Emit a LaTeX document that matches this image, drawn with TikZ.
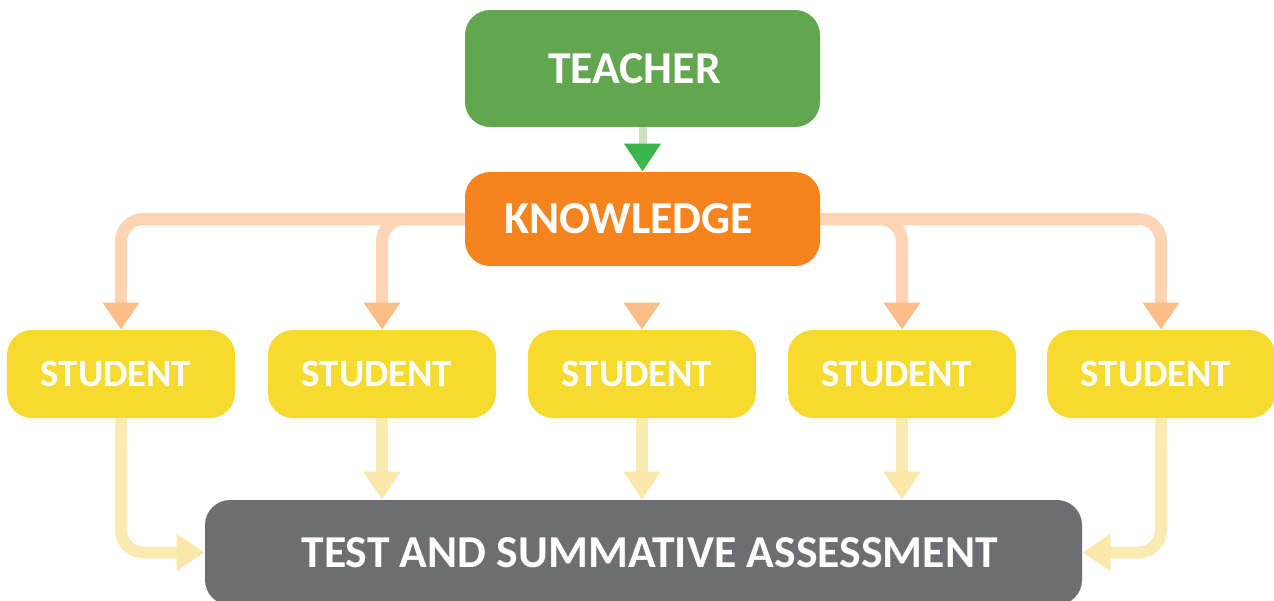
\documentclass[tikz,border=0pt]{standalone}
\usepackage{fontspec}
\setmainfont{Carlito}
\usetikzlibrary{arrows.meta}
\definecolor{teachgreen}{HTML}{62A650}
\definecolor{knoworange}{HTML}{F5841F}
\definecolor{studyellow}{HTML}{F7DA2E}
\definecolor{testgray}{HTML}{6D6E71}
\definecolor{greenline}{HTML}{C9DFC6}
\definecolor{greentip}{HTML}{3CB54A}
\definecolor{orangeline}{HTML}{FDD5B4}
\definecolor{orangetip}{HTML}{FDBD88}
\definecolor{yellowline}{HTML}{FAEBB2}
\definecolor{yellowtip}{HTML}{F9E8AA}
\begin{document}
\begin{tikzpicture}
    \tikzset{
        box/.style={
            rectangle,
            rounded corners=0.5cm,
            inner sep=0mm,
            text=white,
            font=\bfseries
        },
        tteach/.style={
            draw=greenline,
            line width=0.16cm,
            -{Triangle[width=0.7cm,length=0.56cm,color=greentip]}
        },
        tknow/.style={
            draw=orangeline,
            line width=0.24cm,
            rounded corners=0.45cm,
            -{Triangle[width=0.7cm,length=0.54cm,color=orangetip]}
        },
        tstud/.style={
            draw=yellowline,
            line width=0.24cm,
            rounded corners=0.45cm,
            -{Triangle[width=0.7cm,length=0.56cm,color=yellowtip]}
        }
    }
    \useasboundingbox (0,0) rectangle (25.48,-12);
    % draw boxes
    \node[box,fill=teachgreen,minimum width=7.1cm,minimum height=2.34cm,
        font=\fontsize{26}{30}\bfseries] (teacher) at (12.85,-1.37)
        {TEACHER\kern0.32cm};
    \node[box,fill=knoworange,minimum width=7.1cm,minimum height=1.88cm,
        font=\fontsize{26}{30}\bfseries] (know) at (12.85,-4.38)
        {KNOWLEDGE\kern0.56cm};
    \foreach \i/\x in {1/2.42,2/7.64,3/12.84,4/18.04,5/23.22}
        \node[box,fill=studyellow,minimum width=4.56cm,minimum height=1.76cm,
            font=\fontsize{22}{26}\bfseries] (s\i) at (\x,-7.48)
            {\raisebox{-0.1cm}{STUDENT}\kern0.2cm};
    \node[box,fill=testgray,minimum width=17.54cm,minimum height=2.1cm,
        font=\fontsize{26}{30}\bfseries] (test) at (12.87,-11.05)
        {\kern0.24cm TEST AND SUMMATIVE ASSESSMENT};
    % draw teacher to knowledge
    \draw[tteach] (teacher) -- (know);
    % draw knowledge to students
    \draw[tknow] (know.west) -| (s1.north);
    \draw[tknow] (know.west) -| (s2.north);
    \draw[tknow] (know.east) -| (s4.north);
    \draw[tknow] (know.east) -| (s5.north);
    \coordinate (mtip) at ([yshift=0.54cm]s3.north);
    \draw[tknow] (mtip) -- (s3.north);
    % draw students to test
    \draw[tstud] (s1.south) |- (test.west);
    \foreach \i in {2,3,4}
        \draw[tstud] (s\i.south) -- (s\i.south |- test.north);
    \draw[tstud] (s5.south) |- (test.east);
\end{tikzpicture}
\end{document}
